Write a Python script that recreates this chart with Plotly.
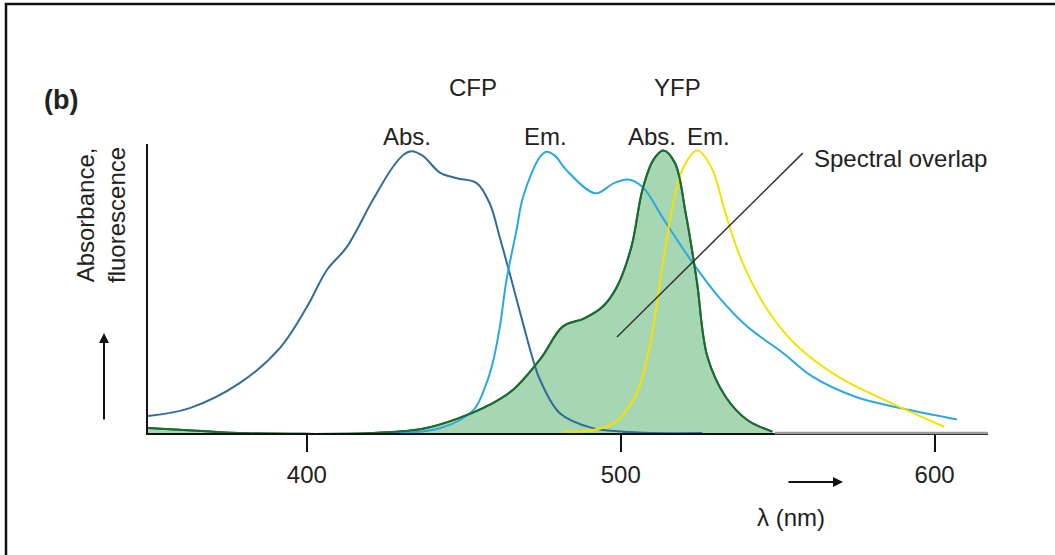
import plotly.graph_objects as go

# ---------------- data (wavelength in nm, relative intensity) ----------------
cfp_abs_nm = [349.4, 362.7, 378.7, 391.4, 400.0, 406.4, 412.7, 421.0, 427.4, 431.0, 433.4,
              436.9, 442.4, 447.8, 454.1, 458.3, 461.5, 464.6, 468.8, 472.3, 474.2,
              480.6, 490.8, 500.0, 510.0, 526.0]
cfp_abs_val = [0.060, 0.088, 0.177, 0.300, 0.445, 0.576, 0.657, 0.823, 0.940, 0.985, 0.996,
               0.980, 0.920, 0.900, 0.883, 0.810, 0.690, 0.565, 0.390, 0.250, 0.190,
               0.070, 0.018, 0.005, 0.000, 0.000]

cfp_em_nm = [425.4, 442.4, 453.0, 457.2, 459.2, 461.5, 463.6, 466.8, 468.9, 474.2,
             476.3, 479.0, 482.7, 491.9, 497.7, 502.3, 506.9, 513.8, 523.0, 531.1, 540.3,
             551.8, 561.0, 574.8, 592.1, 607.1]
cfp_em_val = [0.000, 0.017, 0.080, 0.175, 0.247, 0.376, 0.540, 0.717, 0.835, 0.975,
              0.994, 0.980, 0.929, 0.847, 0.882, 0.896, 0.870, 0.753, 0.600, 0.482, 0.376,
              0.282, 0.200, 0.128, 0.081, 0.048]

yfp_abs_nm = [349.4, 365.0, 378.0, 421.0, 436.9, 447.8, 458.3, 465.4, 474.6,
              481.5, 488.4, 494.2, 498.8, 503.4, 506.9, 510.4, 513.6, 517.3,
              520.7, 524.2, 527.6, 533.4, 540.3, 548.3]
yfp_abs_val = [0.018, 0.008, 0.000, 0.000, 0.015, 0.050, 0.100, 0.150, 0.265,
               0.376, 0.405, 0.446, 0.517, 0.658, 0.859, 0.965, 0.998, 0.953,
               0.776, 0.540, 0.270, 0.128, 0.046, 0.005]

yfp_em_nm = [481.5, 490.8, 497.7, 504.6, 509.2, 512.6, 516.1, 519.6, 524.4, 528.8,
             533.4, 538.0, 546.1, 555.3, 569.1, 586.4, 603.1]
yfp_em_val = [0.005, 0.010, 0.034, 0.128, 0.305, 0.540, 0.776, 0.930, 0.998, 0.940,
              0.776, 0.623, 0.446, 0.317, 0.200, 0.105, 0.022]

tick_vals = [400, 500, 600]
tick_text = ["400", "500", "600"]

overlap_pointer_nm = [498.8, 558.0]
overlap_pointer_val = [0.339, 0.989]

# ---------------- layout geometry ----------------
W, H = 1055, 555
L, R, T, B = 148, 67, 144, 122
PW, PH = W - L - R, H - T - B
X_RANGE = [349.4, 617.0]
Y_RANGE = [0, PH / 283.0]


def px(x):
    return (x - L) / PW


def py(y):
    return (H - B - y) / PH


FONT = "Liberation Sans, Arial, Helvetica, sans-serif"
TXT = "#222222"
SPL = dict(shape="spline", smoothing=1.0)

fig = go.Figure()

# YFP absorbance fill
fig.add_trace(go.Scatter(x=yfp_abs_nm, y=yfp_abs_val, mode="lines",
                         line=dict(color="#1d6a32", width=2, **SPL),
                         fill="tozeroy", fillcolor="#a7d7b2", hoverinfo="skip"))
fig.add_trace(go.Scatter(x=cfp_abs_nm, y=cfp_abs_val, mode="lines",
                         line=dict(color="#2f6d9a", width=2, **SPL)))
fig.add_trace(go.Scatter(x=cfp_em_nm, y=cfp_em_val, mode="lines",
                         line=dict(color="#2aa8e0", width=2, **SPL)))
fig.add_trace(go.Scatter(x=yfp_em_nm, y=yfp_em_val, mode="lines",
                         line=dict(color="#f5e200", width=2, **SPL)))
# YFP absorbance outline on top
fig.add_trace(go.Scatter(x=yfp_abs_nm, y=yfp_abs_val, mode="lines",
                         line=dict(color="#1d6a32", width=2, **SPL)))

shapes = [
    # spectral overlap pointer
    dict(type="line", xref="x", yref="y",
         x0=overlap_pointer_nm[0], y0=overlap_pointer_val[0],
         x1=overlap_pointer_nm[1], y1=overlap_pointer_val[1],
         line=dict(color="#333333", width=1.5)),
    # grey end part of the baseline
    dict(type="line", xref="x", yref="paper", x0=549, x1=X_RANGE[1], y0=0, y1=0,
         line=dict(color="#9a9a9a", width=2.5)),
    # frame
    dict(type="rect", xref="paper", yref="paper",
         x0=px(6), y0=py(4), x1=px(1070), y1=py(570),
         line=dict(color="#111111", width=2.5)),
]

ann = []


def text(s, x, y, size=24, bold=False, xanchor="center", angle=0):
    ann.append(dict(text=f"<b>{s}</b>" if bold else s, x=px(x), y=py(y),
                    xref="paper", yref="paper", showarrow=False,
                    xanchor=xanchor, yanchor="middle", textangle=angle,
                    font=dict(family=FONT, size=size, color=TXT)))


text("(b)", 61, 100, size=27, bold=True)
text("CFP", 473, 87)
text("YFP", 677, 87)
text("Abs.", 407, 136)
text("Em.", 545, 136)
text("Abs.", 652, 136)
text("Em.", 708, 136)
text("Spectral overlap", 812, 158, xanchor="left")
text("λ (nm)", 791, 517)
text("Absorbance,<br>fluorescence", 101, 215, angle=-90)

# arrows
ann.append(dict(x=px(104), y=py(333), xref="paper", yref="paper", ax=0, ay=88,
                showarrow=True, arrowhead=2, arrowsize=1, arrowwidth=2,
                arrowcolor="#111111", text=""))
ann.append(dict(x=px(843), y=py(482), xref="paper", yref="paper", ax=-56, ay=0,
                showarrow=True, arrowhead=2, arrowsize=1, arrowwidth=2,
                arrowcolor="#111111", text=""))

fig.update_layout(
    width=W, height=H,
    margin=dict(l=L, r=R, t=T, b=B, pad=0),
    plot_bgcolor="white", paper_bgcolor="white",
    showlegend=False,
    shapes=shapes, annotations=ann,
    xaxis=dict(range=X_RANGE, showgrid=False, zeroline=False,
               showline=True, linecolor="#111111", linewidth=2,
               tickmode="array", tickvals=tick_vals, ticktext=tick_text,
               ticks="outside", ticklen=17, tickwidth=1.5, tickcolor="#111111",
               ticklabelstandoff=2,
               tickfont=dict(family=FONT, size=24, color=TXT)),
    yaxis=dict(range=Y_RANGE, showgrid=False, zeroline=False,
               showline=True, linecolor="#111111", linewidth=2,
               showticklabels=False, ticks=""),
)

fig.write_html("out.html",
               config={"displayModeBar": False},
               post_script="document.body.style.margin='0';"
                           "document.body.style.overflow='hidden';")
